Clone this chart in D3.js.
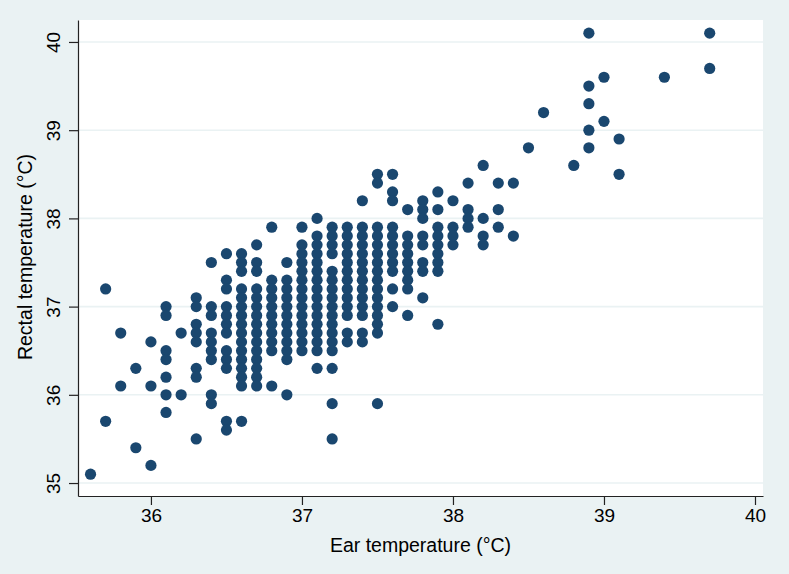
<!DOCTYPE html>
<html>
<head>
<meta charset="utf-8">
<script src="https://cdn.jsdelivr.net/npm/d3@7"></script>
<style>
  body { margin: 0; background: #eaf2f3; }
  text { font-family: "Liberation Sans", Arial, sans-serif; fill: #000; }
</style>
</head>
<body>
<div id="wrapper"></div>
<script>
// ear temperature (x) and rectal temperature (y), one column of the picture per line
const earTemp = [
  35.6,
  35.7, 35.7,
  35.8, 35.8,
  35.9, 35.9,
  36.0, 36.0, 36.0,
  36.1, 36.1, 36.1, 36.1, 36.1, 36.1, 36.1,
  36.2, 36.2,
  36.3, 36.3, 36.3, 36.3, 36.3, 36.3, 36.3, 36.3,
  36.4, 36.4, 36.4, 36.4, 36.4, 36.4, 36.4, 36.4, 36.4,
  36.5, 36.5, 36.5, 36.5, 36.5, 36.5, 36.5, 36.5, 36.5, 36.5, 36.5, 36.5,
  36.6, 36.6, 36.6, 36.6, 36.6, 36.6, 36.6, 36.6, 36.6, 36.6, 36.6, 36.6, 36.6, 36.6, 36.6, 36.6,
  36.7, 36.7, 36.7, 36.7, 36.7, 36.7, 36.7, 36.7, 36.7, 36.7, 36.7, 36.7, 36.7, 36.7, 36.7,
  36.8, 36.8, 36.8, 36.8, 36.8, 36.8, 36.8, 36.8, 36.8, 36.8, 36.8,
  36.9, 36.9, 36.9, 36.9, 36.9, 36.9, 36.9, 36.9, 36.9, 36.9, 36.9, 36.9,
  37.0, 37.0, 37.0, 37.0, 37.0, 37.0, 37.0, 37.0, 37.0, 37.0, 37.0, 37.0, 37.0, 37.0,
  37.1, 37.1, 37.1, 37.1, 37.1, 37.1, 37.1, 37.1, 37.1, 37.1, 37.1, 37.1, 37.1, 37.1, 37.1, 37.1,
  37.2, 37.2, 37.2, 37.2, 37.2, 37.2, 37.2, 37.2, 37.2, 37.2, 37.2, 37.2, 37.2, 37.2, 37.2, 37.2, 37.2,
  37.3, 37.3, 37.3, 37.3, 37.3, 37.3, 37.3, 37.3, 37.3, 37.3, 37.3, 37.3, 37.3,
  37.4, 37.4, 37.4, 37.4, 37.4, 37.4, 37.4, 37.4, 37.4, 37.4, 37.4, 37.4, 37.4, 37.4,
  37.5, 37.5, 37.5, 37.5, 37.5, 37.5, 37.5, 37.5, 37.5, 37.5, 37.5, 37.5, 37.5, 37.5, 37.5, 37.5,
  37.6, 37.6, 37.6, 37.6, 37.6, 37.6, 37.6, 37.6, 37.6, 37.6, 37.6,
  37.7, 37.7, 37.7, 37.7, 37.7, 37.7, 37.7, 37.7, 37.7,
  37.8, 37.8, 37.8, 37.8, 37.8, 37.8, 37.8, 37.8,
  37.9, 37.9, 37.9, 37.9, 37.9, 37.9, 37.9, 37.9, 37.9,
  38.0, 38.0, 38.0, 38.0,
  38.1, 38.1, 38.1, 38.1,
  38.2, 38.2, 38.2, 38.2,
  38.3, 38.3, 38.3,
  38.4, 38.4,
  38.5,
  38.6,
  38.8,
  38.9, 38.9, 38.9, 38.9, 38.9,
  39.0, 39.0,
  39.1, 39.1,
  39.4,
  39.7, 39.7
];
const rectalTemp = [
  35.1,
  37.2, 35.7,
  36.7, 36.1,
  36.3, 35.4,
  36.6, 36.1, 35.2,
  37.0, 36.9, 36.5, 36.4, 36.2, 36.0, 35.8,
  36.7, 36.0,
  37.1, 37.0, 36.8, 36.7, 36.6, 36.3, 36.2, 35.5,
  37.5, 37.0, 36.9, 36.7, 36.6, 36.5, 36.4, 36.0, 35.9,
  37.6, 37.3, 37.2, 37.0, 36.9, 36.8, 36.7, 36.5, 36.4, 36.3, 35.7, 35.6,
  37.6, 37.5, 37.4, 37.2, 37.1, 37.0, 36.9, 36.8, 36.7, 36.6, 36.5, 36.4, 36.3, 36.2, 36.1, 35.7,
  37.7, 37.5, 37.4, 37.2, 37.1, 37.0, 36.9, 36.8, 36.7, 36.6, 36.5, 36.4, 36.3, 36.2, 36.1,
  37.9, 37.3, 37.2, 37.1, 37.0, 36.9, 36.8, 36.7, 36.6, 36.5, 36.1,
  37.5, 37.3, 37.2, 37.1, 37.0, 36.9, 36.8, 36.7, 36.6, 36.5, 36.4, 36.0,
  37.9, 37.7, 37.6, 37.5, 37.4, 37.3, 37.2, 37.1, 37.0, 36.9, 36.8, 36.7, 36.6, 36.5,
  38.0, 37.8, 37.7, 37.6, 37.5, 37.4, 37.3, 37.2, 37.1, 37.0, 36.9, 36.8, 36.7, 36.6, 36.5, 36.3,
  37.9, 37.8, 37.7, 37.6, 37.4, 37.3, 37.2, 37.1, 37.0, 36.9, 36.8, 36.7, 36.6, 36.5, 36.3, 35.9, 35.5,
  37.9, 37.8, 37.7, 37.6, 37.5, 37.4, 37.3, 37.2, 37.1, 37.0, 36.9, 36.7, 36.6,
  38.2, 37.9, 37.8, 37.7, 37.6, 37.5, 37.4, 37.3, 37.2, 37.1, 37.0, 36.9, 36.7, 36.6,
  38.5, 38.4, 37.9, 37.8, 37.7, 37.6, 37.5, 37.4, 37.3, 37.2, 37.1, 37.0, 36.9, 36.8, 36.7, 35.9,
  38.5, 38.3, 38.2, 37.9, 37.8, 37.7, 37.6, 37.5, 37.4, 37.2, 37.0,
  38.1, 37.8, 37.7, 37.6, 37.5, 37.4, 37.3, 37.2, 36.9,
  38.2, 38.1, 38.0, 37.8, 37.7, 37.5, 37.4, 37.1,
  38.3, 38.1, 37.9, 37.8, 37.7, 37.6, 37.5, 37.4, 36.8,
  38.2, 37.9, 37.8, 37.7,
  38.4, 38.1, 38.0, 37.9,
  38.6, 38.0, 37.8, 37.7,
  38.4, 38.1, 37.9,
  38.4, 37.8,
  38.8,
  39.2,
  38.6,
  40.1, 39.5, 39.3, 39.0, 38.8,
  39.6, 39.1,
  38.9, 38.5,
  39.6,
  40.1, 39.7
];
const xTicks = [36, 37, 38, 39, 40];
const yTicks = [35, 36, 37, 38, 39, 40];
const xTitle = "Ear temperature (°C)";
const yTitle = "Rectal temperature (°C)";

function buildPlot() {
    const data = earTemp.map((e, i) => ({ ear: e, rectal: rectalTemp[i] }));
    const xAccessor = d => d.ear;
    const yAccessor = d => d.rectal;

    const dimension = {
        width: 789,
        height: 574,
        margin: { top: 20, left: 78, bottom: 78, right: 26 }
    };
    dimension.boundedWidth = dimension.width - dimension.margin.left - dimension.margin.right;
    dimension.boundedHeight = dimension.height - dimension.margin.top - dimension.margin.bottom;

    const svg = d3.select("#wrapper").append("svg")
        .attr("width", dimension.width)
        .attr("height", dimension.height)
        .style("display", "block");

    svg.append("rect")
        .attr("width", dimension.width)
        .attr("height", dimension.height)
        .attr("fill", "#eaf2f3");

    const bounded = svg.append("g")
        .attr("transform", `translate(${dimension.margin.left},${dimension.margin.top})`);

    // plot region limits as Stata draws them (a little past the outer ticks)
    const xScaler = d3.scaleLinear()
        .domain([35.517, 40.053])
        .range([0, dimension.boundedWidth]);
    const yScaler = d3.scaleLinear()
        .domain([34.853, 40.249])
        .range([dimension.boundedHeight, 0]);

    bounded.append("rect")
        .attr("width", dimension.boundedWidth)
        .attr("height", dimension.boundedHeight)
        .attr("fill", "white");

    bounded.append("g")
        .selectAll("line")
        .data(yTicks)
        .join("line")
        .attr("x1", 0)
        .attr("x2", dimension.boundedWidth)
        .attr("y1", d => yScaler(d))
        .attr("y2", d => yScaler(d))
        .attr("stroke", "#eaf2f3")
        .attr("stroke-width", 1.6);

    bounded.append("g")
        .selectAll("circle")
        .data(data)
        .join("circle")
        .attr("cx", d => xScaler(xAccessor(d)))
        .attr("cy", d => yScaler(yAccessor(d)))
        .attr("r", 5.6)
        .attr("fill", "#1a476f");

    const xAxis = bounded.append("g")
        .attr("transform", `translate(0,${dimension.boundedHeight})`)
        .call(d3.axisBottom(xScaler).tickValues(xTicks).tickFormat(d3.format("d"))
            .tickSize(9).tickSizeOuter(0).tickPadding(4));
    xAxis.selectAll("text").style("font-size", "19px").attr("fill", "#000");

    const yAxis = bounded.append("g")
        .call(d3.axisLeft(yScaler).tickValues(yTicks).tickFormat(d3.format("d"))
            .tickSize(9).tickSizeOuter(0));
    yAxis.selectAll("text")
        .style("font-size", "19px")
        .attr("fill", "#000")
        .attr("text-anchor", "middle")
        .attr("transform", "rotate(-90)")
        .attr("x", 0)
        .attr("y", -18)
        .attr("dy", 0);

    [xAxis, yAxis].forEach(a => {
        a.selectAll(".domain, line").attr("stroke", "#222").attr("stroke-width", 1.2);
    });

    svg.append("text")
        .attr("x", dimension.margin.left + dimension.boundedWidth / 2)
        .attr("y", 552)
        .attr("text-anchor", "middle")
        .style("font-size", "19.5px")
        .text(xTitle);

    svg.append("text")
        .attr("transform", "translate(32,257) rotate(-90)")
        .attr("text-anchor", "middle")
        .style("font-size", "19.5px")
        .text(yTitle);
}

buildPlot();
</script>
</body>
</html>
